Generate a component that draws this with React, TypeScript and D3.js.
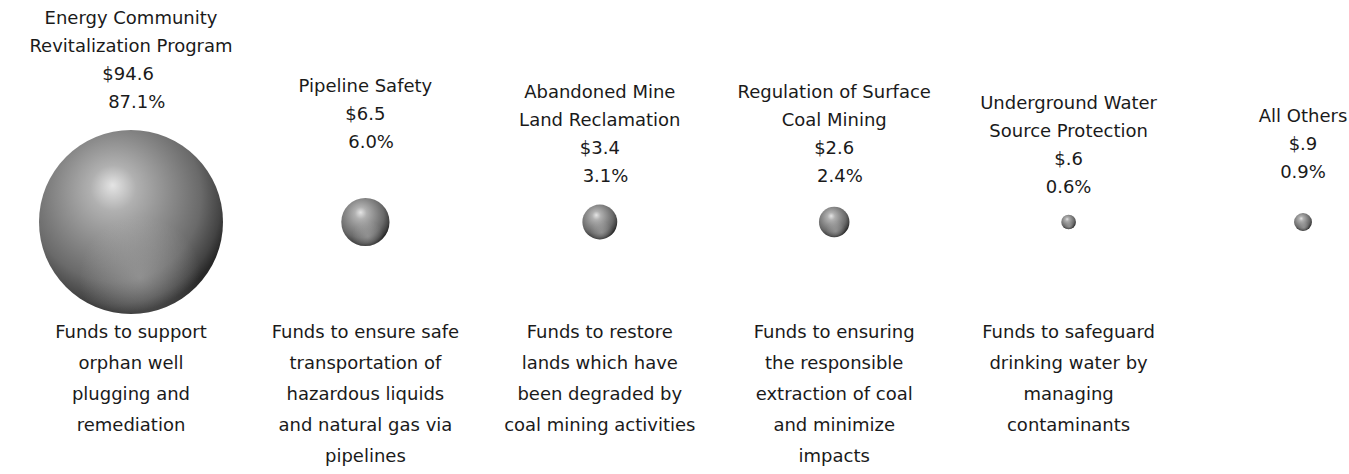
import React from "react";
import * as d3 from "d3";

const programs = [
  "Energy Community Revitalization Program",
  "Pipeline Safety",
  "Abandoned Mine Land Reclamation",
  "Regulation of Surface Coal Mining",
  "Underground Water Source Protection",
  "All Others",
];
const amounts = [94.6, 6.5, 3.4, 2.6, 0.6, 0.9];
const amountLabels = ["$94.6 ", "$6.5", "$3.4", "$2.6", "$.6", "$.9"];
const shareLabels = ["  87.1%", "  6.0%", "  3.1%", "  2.4%", "0.6%", "0.9%"];
const titleLines = [
  ["Energy Community", "Revitalization Program"],
  ["Pipeline Safety"],
  ["Abandoned Mine", "Land Reclamation"],
  ["Regulation of Surface", "Coal Mining"],
  ["Underground Water", "Source Protection"],
  ["All Others"],
];
const descriptions = [
  ["Funds to support", "orphan well", "plugging and", "remediation"],
  ["Funds to ensure safe", "transportation of", "hazardous liquids", "and natural gas via", "pipelines"],
  ["Funds to restore", "lands which have", "been degraded by", "coal mining activities"],
  ["Funds to ensuring", "the responsible", "extraction of coal", "and minimize", "impacts"],
  ["Funds to safeguard", "drinking water by", "managing", "contaminants"],
  [],
];

// layout (text placement only)
const labelTopY = [18, 86, 92, 92, 103, 116];
const W = 1349;
const H = 474;
const CY = 222;
const LINE = 28;
const DESC_TOP = 332;
const DESC_LINE = 31;
const FONT = "'DejaVu Sans', sans-serif";
const FS = 18;

export default function App() {
  const x = d3.scalePoint<string>().domain(programs).range([131, 1303]);
  const r = d3.scaleSqrt().domain([0, 94.6]).range([0, 92]);

  return (
    <svg
      width={W}
      height={H}
      style={{ position: "absolute", left: 0, top: 0, background: "#fff" }}
      fontFamily={FONT}
      fontSize={FS}
    >
      <defs>
        <radialGradient id="sphere" cx="0.42" cy="0.38" r="0.62" fx="0.4" fy="0.3">
          <stop offset="0" stopColor="#e4e4e4" />
          <stop offset="0.2" stopColor="#b0b0b0" />
          <stop offset="0.48" stopColor="#8c8c8c" />
          <stop offset="0.75" stopColor="#6a6a6a" />
          <stop offset="0.92" stopColor="#444" />
          <stop offset="1" stopColor="#282828" />
        </radialGradient>
        <radialGradient id="reflect" cx="0.55" cy="0.8" r="0.33">
          <stop offset="0" stopColor="#bdbdbd" stopOpacity="0.45" />
          <stop offset="1" stopColor="#bdbdbd" stopOpacity="0" />
        </radialGradient>
      </defs>
      {programs.map((p, i) => {
        const cx = x(p)!;
        const rr = r(amounts[i]);
        const lines = [...titleLines[i], amountLabels[i], shareLabels[i]];
        return (
          <g key={p}>
            <circle cx={cx} cy={CY} r={rr} fill="url(#sphere)" />
            <circle cx={cx} cy={CY} r={rr} fill="url(#reflect)" />
            {lines.map((t, j) => (
              <text
                key={j}
                x={cx}
                y={labelTopY[i] + j * LINE}
                dy="0.36em"
                textAnchor="middle"
                fill="#1a1a1a"
                style={{ whiteSpace: "pre" }}
              >
                {t}
              </text>
            ))}
            {descriptions[i].map((t, j) => (
              <text
                key={"d" + j}
                x={cx}
                y={DESC_TOP + j * DESC_LINE}
                dy="0.36em"
                textAnchor="middle"
                fill="#1a1a1a"
              >
                {t}
              </text>
            ))}
          </g>
        );
      })}
    </svg>
  );
}
